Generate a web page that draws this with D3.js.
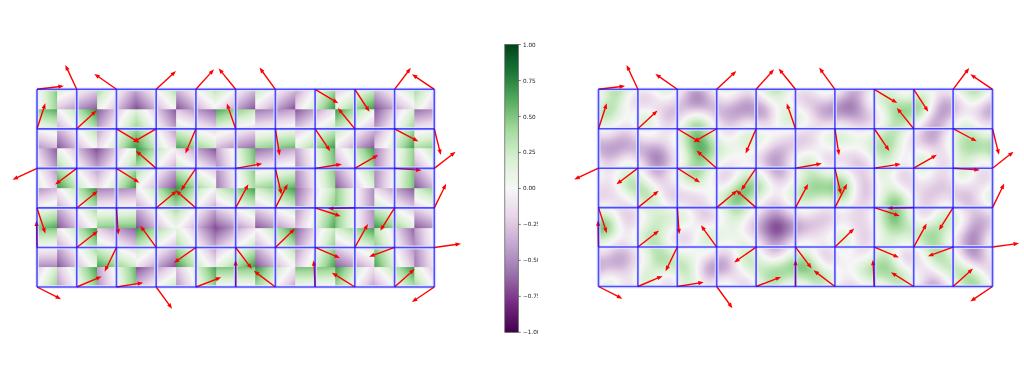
<!DOCTYPE html>
<html>
<head>
<meta charset="utf-8">
<script src="https://cdn.jsdelivr.net/npm/d3@7"></script>
<style>
html,body{margin:0;padding:0;background:#fff;width:1024px;height:384px;overflow:hidden}
svg{display:block;filter:blur(0.7px)}
text{font-family:"DejaVu Sans",sans-serif}
</style>
</head>
<body>
<svg id="chart" width="1024" height="384"></svg>
<script>
// Gradient direction at every grid node, degrees counter-clockwise from +x, read from the arrows.
const anglesRow0 = [7, 115, 145, 43, 48, 129, 126, -31, -57, 53, 146];
const anglesRow1 = [72, 43, -31, 210, 247, 109, -81, -56, 129, -28, -76];
const anglesRow2 = [205, 217, -32, 139, 236, 10, -77, 9, 30, -4, 38];
const anglesRow3 = [-72, 39, -86, 40, 139, 62, 63, -18, 181, 238, 64];
const anglesRow4 = [91, 38, 244, 126, 215, -53, 44, -23, 61, 200, 8];
const anglesRow5 = [-27, 23, 9, -54, 21, 90, 143, 93, 148, 42, 214];
const gradientAngles = [anglesRow0, anglesRow1, anglesRow2, anglesRow3, anglesRow4, anglesRow5];
const arrowLength = 0.68;           // grid units
const colorDomain = [-1, -0.8, -0.6, -0.4, -0.2, 0, 0.2, 0.4, 0.6, 0.8, 1];
const colorbarTicks = [1, 0.75, 0.5, 0.25, 0, -0.25, -0.5, -0.75, -1];
const colorbarLabels = ["1.00", "0.75", "0.50", "0.25", "0.00", "\u22120.25", "\u22120.50", "\u22120.75", "\u22121.00"];

const cols = anglesRow0.length - 1, rows = gradientAngles.length - 1;
const gradients = gradientAngles.map(r => r.map(a => [Math.cos(a * Math.PI / 180), Math.sin(a * Math.PI / 180)]));
const color = d3.scaleLinear().domain(colorDomain).range(d3.schemePRGn[11]).clamp(true);
const svg = d3.select("#chart");

const fade = t => t * t * t * (t * (t * 6 - 15) + 10);
const dot = (gx, gy, i, j) => gradients[j][i][0] * (gx - i) - gradients[j][i][1] * (gy - j);
function nearestValue(gx, gy) {
  return dot(gx, gy, Math.min(cols, Math.round(gx)), Math.min(rows, Math.round(gy)));
}
function perlinValue(gx, gy) {
  const i = Math.min(cols - 1, Math.floor(gx)), j = Math.min(rows - 1, Math.floor(gy));
  const u = fade(gx - i), v = fade(gy - j);
  const top = d3.interpolateNumber(dot(gx, gy, i, j), dot(gx, gy, i + 1, j))(u);
  const bot = d3.interpolateNumber(dot(gx, gy, i, j + 1), dot(gx, gy, i + 1, j + 1))(u);
  return d3.interpolateNumber(top, bot)(v);
}

function drawGrid(g, x, y, stroke, opacity, width) {
  const grid = g.append("g").attr("stroke", stroke).attr("stroke-opacity", opacity).attr("stroke-width", width).attr("fill", "none");
  grid.selectAll("line.v").data(d3.range(cols + 1)).join("line").attr("class", "v")
    .attr("x1", x).attr("x2", x).attr("y1", y(0)).attr("y2", y(rows));
  grid.selectAll("line.h").data(d3.range(rows + 1)).join("line").attr("class", "h")
    .attr("x1", x(0)).attr("x2", x(cols)).attr("y1", y).attr("y2", y);
}

function panel(x0, x1, y0, y1, valueAt) {
  const x = d3.scaleLinear().domain([0, cols]).range([x0, x1]);
  const y = d3.scaleLinear().domain([0, rows]).range([y0, y1]);
  const g = svg.append("g");

  // heat field
  const w = Math.round(x1 - x0), h = Math.round(y1 - y0);
  const canvas = document.createElement("canvas");
  canvas.width = w; canvas.height = h;
  const ctx = canvas.getContext("2d");
  const img = ctx.createImageData(w, h);
  for (let py = 0; py < h; py++) for (let px = 0; px < w; px++) {
    const c = d3.rgb(color(valueAt(x.invert(x0 + (px + 0.5) * (x1 - x0) / w), y.invert(y0 + (py + 0.5) * (y1 - y0) / h))));
    const k = (py * w + px) * 4;
    img.data[k] = c.r; img.data[k + 1] = c.g; img.data[k + 2] = c.b; img.data[k + 3] = 255;
  }
  ctx.putImageData(img, 0, 0);
  g.append("image").attr("x", x0).attr("y", y0).attr("width", x1 - x0).attr("height", y1 - y0)
    .attr("preserveAspectRatio", "none").attr("href", canvas.toDataURL());

  // soft light halo around the grid
  drawGrid(g, x, y, "#e4e4ff", 0.75, 4);

  // arrows
  const nodes = gradients.flatMap((r, j) => r.map((v, i) => ({ i, j, dx: v[0], dy: v[1] })));
  const shaft = 1.4, headLen = 5.5, headHalf = 2.1;
  g.append("g").selectAll("path").data(nodes).join("path")
    .attr("fill", "#ff0000")
    .attr("d", d => {
      const sx = x(d.i), sy = y(d.j);
      const tx = x(d.i + arrowLength * d.dx), ty = y(d.j - arrowLength * d.dy);
      const len = Math.hypot(tx - sx, ty - sy), ux = (tx - sx) / len, uy = (ty - sy) / len;
      const nx = -uy, ny = ux;
      const bx = tx - ux * headLen, by = ty - uy * headLen;
      const s = shaft / 2;
      return d3.line()([
        [sx + nx * s, sy + ny * s], [bx + nx * s, by + ny * s], [bx + nx * headHalf, by + ny * headHalf],
        [tx, ty],
        [bx - nx * headHalf, by - ny * headHalf], [bx - nx * s, by - ny * s], [sx - nx * s, sy - ny * s]
      ]) + "Z";
    });

  // grid
  drawGrid(g, x, y, "#1a1aff", 0.75, 1.6);
}

panel(37, 434.3, 89.3, 287, nearestValue);
panel(598.5, 992.5, 89.3, 286.5, perlinValue);

// colorbar
const barX = 504.8, barW = 13.5;
const cy = d3.scaleLinear().domain([-1, 1]).range([332.3, 44.5]);
const defs = svg.append("defs");
const lg = defs.append("linearGradient").attr("id", "cbar").attr("x1", 0).attr("x2", 0).attr("y1", 1).attr("y2", 0);
lg.selectAll("stop").data(colorDomain).join("stop")
  .attr("offset", d => (d + 1) / 2).attr("stop-color", d => color(d));
defs.append("clipPath").attr("id", "cbarClip").append("rect")
  .attr("x", 500).attr("y", 30).attr("width", 38).attr("height", 310);
svg.append("rect").attr("x", barX).attr("y", cy(1)).attr("width", barW).attr("height", cy(-1) - cy(1))
  .attr("fill", "url(#cbar)").attr("stroke", "#555").attr("stroke-width", 0.7);
const tk = svg.append("g").attr("clip-path", "url(#cbarClip)").selectAll("g").data(colorbarTicks).join("g")
  .attr("transform", d => `translate(${barX + barW},${cy(d)})`);
tk.append("line").attr("x2", 2.5).attr("stroke", "#444").attr("stroke-width", 0.7);
tk.append("text").attr("x", 4.7).attr("dy", "0.36em").attr("font-size", 5.7).attr("fill", "#222")
  .text((d, i) => colorbarLabels[i]);
</script>
</body>
</html>
